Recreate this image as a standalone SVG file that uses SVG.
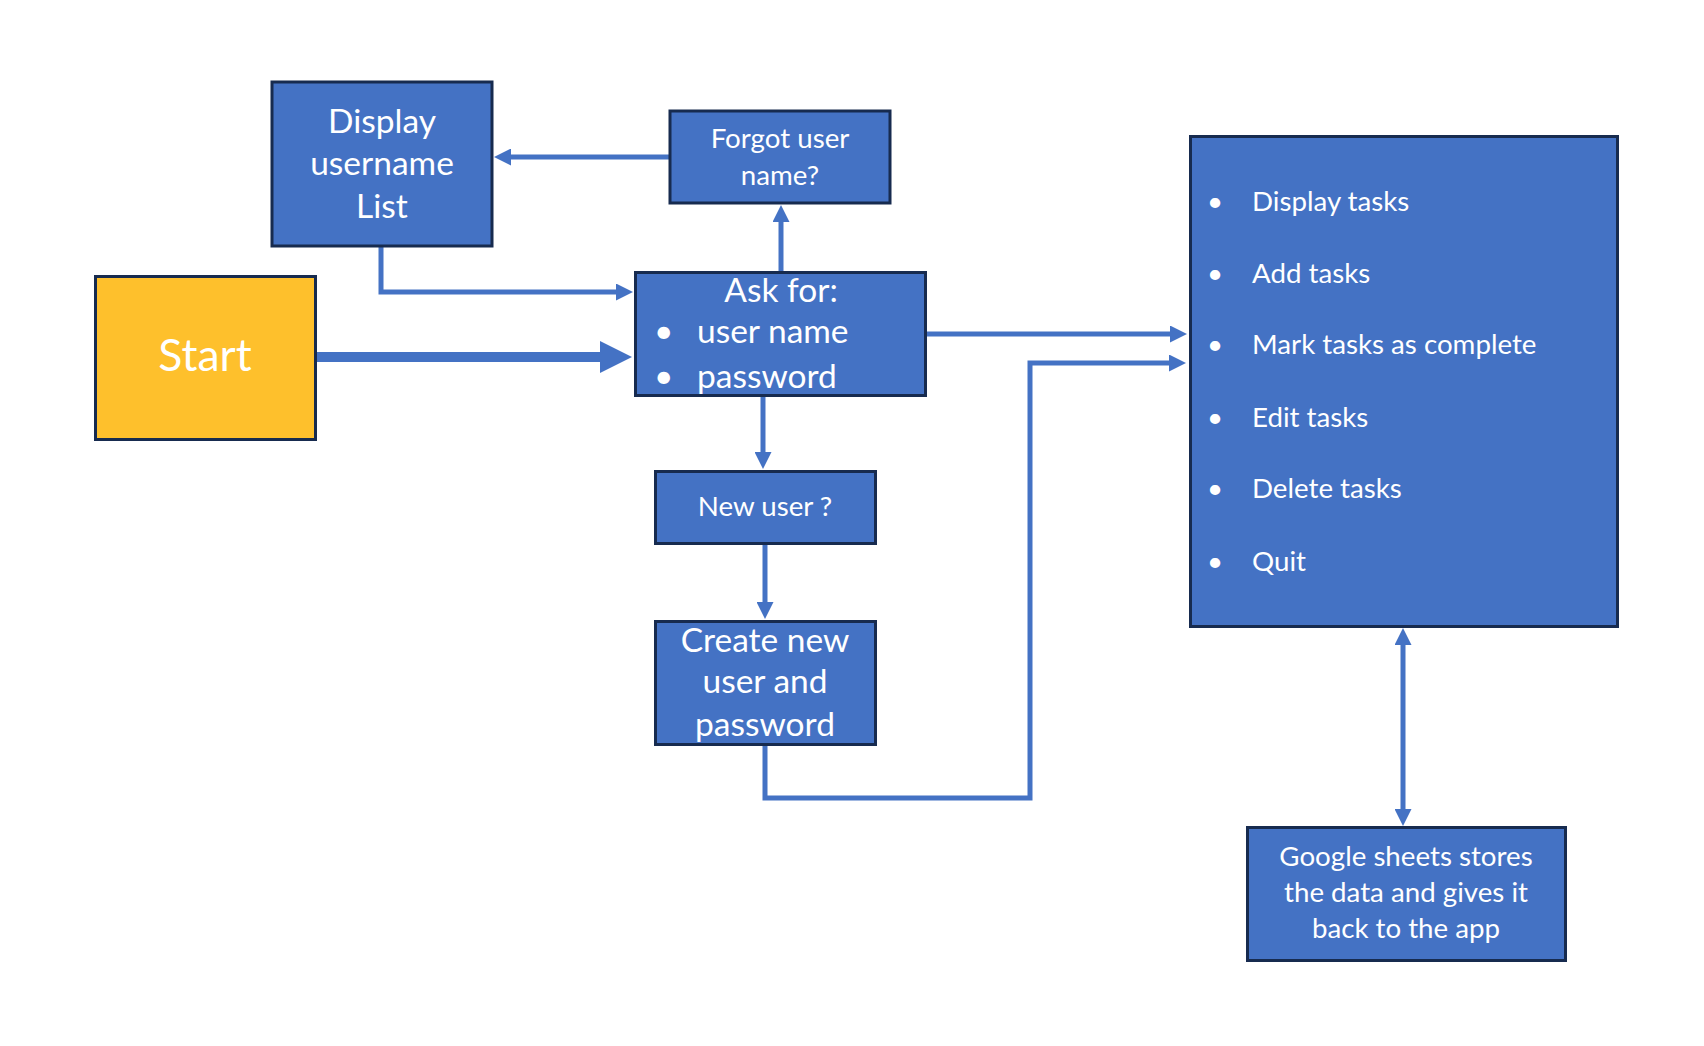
<svg xmlns="http://www.w3.org/2000/svg" width="1704" height="1046" viewBox="0 0 1704 1046">
  <style>
    .box { fill: #4472C4; stroke: #172B4F; stroke-width: 3; }
    .start { fill: #FEC02C; stroke: #172B4F; stroke-width: 3; }
    .t { font-family: Lato, "Open Sans", "Liberation Sans", sans-serif; fill: #FFFFFF; }
    .c { text-anchor: middle; }
    .lg { font-size: 33.5px; }
    .md { font-size: 27.7px; }
    .xl { font-size: 44.5px; }
    .conn { fill: none; stroke: #4472C4; stroke-width: 5; }
    .thick { fill: none; stroke: #4472C4; stroke-width: 10; }
  </style>
  <defs>
    <marker id="arr" markerUnits="userSpaceOnUse" markerWidth="17" markerHeight="17" viewBox="0 0 17 17" refX="5" refY="8.5" orient="auto-start-reverse">
      <path d="M0,0 L17,8.5 L0,17 z" fill="#4472C4"/>
    </marker>
    <marker id="arrBig" markerUnits="userSpaceOnUse" markerWidth="32" markerHeight="32" viewBox="0 0 32 32" refX="12" refY="16" orient="auto">
      <path d="M0,0 L32,16 L0,32 z" fill="#4472C4"/>
    </marker>
  </defs>

  <g id="connectors">
    <path id="c-start-ask" class="thick" d="M317,357 H612" marker-end="url(#arrBig)"/>
    <path id="c-list-ask" class="conn" d="M381,247 V292 H621" marker-end="url(#arr)"/>
    <path id="c-forgot-list" class="conn" d="M669,157 H506" marker-end="url(#arr)"/>
    <path id="c-ask-forgot" class="conn" d="M781,271 V217" marker-end="url(#arr)"/>
    <path id="c-ask-new" class="conn" d="M763,397 V457" marker-end="url(#arr)"/>
    <path id="c-new-create" class="conn" d="M765,544 V607" marker-end="url(#arr)"/>
    <path id="c-create-tasks" class="conn" d="M765,746 V798 H1030 V363 H1174" marker-end="url(#arr)"/>
    <path id="c-ask-tasks" class="conn" d="M927,334 H1175" marker-end="url(#arr)"/>
    <path id="c-tasks-google" class="conn" d="M1403,640 V814" marker-start="url(#arr)" marker-end="url(#arr)"/>
  </g>

  <g id="display-list">
    <rect class="box" x="272" y="82" width="220" height="164"/>
    <text class="t c lg" x="382" y="133">Display</text>
    <text class="t c lg" x="382" y="175">username</text>
    <text class="t c lg" x="382" y="218">List</text>
  </g>

  <g id="forgot">
    <rect class="box" x="670" y="111" width="220" height="92"/>
    <text class="t c md" x="780" y="148">Forgot user</text>
    <text class="t c md" x="780" y="185">name?</text>
  </g>

  <g id="start">
    <rect class="start" x="95.5" y="276.5" width="220" height="163"/>
    <text class="t c xl" x="205" y="371">Start</text>
  </g>

  <g id="ask">
    <rect class="box" x="635.5" y="272.5" width="290" height="123"/>
    <text class="t c lg" x="781" y="302">Ask for:</text>
    <text class="t lg" x="654" y="343">•</text>
    <text class="t lg" x="697" y="343">user name</text>
    <text class="t lg" x="654" y="388">•</text>
    <text class="t lg" x="697" y="388">password</text>
  </g>

  <g id="new-user">
    <rect class="box" x="655.5" y="471.5" width="220" height="72"/>
    <text class="t c md" x="765" y="516">New user ?</text>
  </g>

  <g id="create-user">
    <rect class="box" x="655.5" y="621.5" width="220" height="123"/>
    <text class="t c lg" x="765" y="652">Create new</text>
    <text class="t c lg" x="765" y="693">user and</text>
    <text class="t c lg" x="765" y="736">password</text>
  </g>

  <g id="tasks">
    <rect class="box" x="1190.5" y="136.5" width="427" height="490"/>
    <text class="t md" x="1207" y="211">•</text>
    <text class="t md" x="1252" y="211">Display tasks</text>
    <text class="t md" x="1207" y="283">•</text>
    <text class="t md" x="1252" y="283">Add tasks</text>
    <text class="t md" x="1207" y="354">•</text>
    <text class="t md" x="1252" y="354">Mark tasks as complete</text>
    <text class="t md" x="1207" y="427">•</text>
    <text class="t md" x="1252" y="427">Edit tasks</text>
    <text class="t md" x="1207" y="498">•</text>
    <text class="t md" x="1252" y="498">Delete tasks</text>
    <text class="t md" x="1207" y="571">•</text>
    <text class="t md" x="1252" y="571">Quit</text>
  </g>

  <g id="google">
    <rect class="box" x="1247.5" y="827.5" width="318" height="133"/>
    <text class="t c md" x="1406" y="866">Google sheets stores</text>
    <text class="t c md" x="1406" y="902">the data and gives it</text>
    <text class="t c md" x="1406" y="938">back to the app</text>
  </g>
</svg>
